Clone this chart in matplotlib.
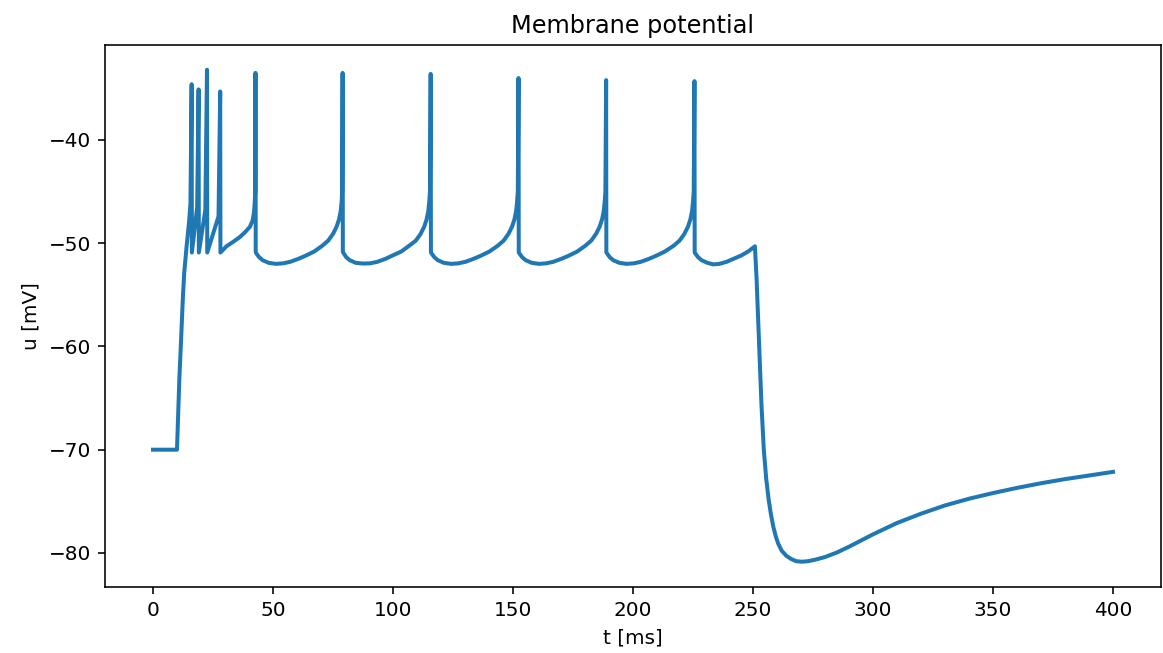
import matplotlib
matplotlib.use("Agg")
import matplotlib.pyplot as plt

# valores: tiempo (ms) y potencial de membrana (mV)
t_ini = [0.0, 10.0, 11.0, 11.7, 12.4, 13.0, 14.0, 15.0, 15.6]
u_ini = [-70.0, -70.0, -63.0, -59.4, -55.5, -52.9, -50.3, -48.0, -46.2]

# rafaga inicial
t_raf = [16.1, 16.2, 18.4, 19.0, 19.1, 21.8, 22.5, 22.6, 27.3, 28.0, 28.1,
         30.6, 33.5, 36.2, 38.5, 40.4, 41.5, 42.1, 42.4, 42.6, 42.7]
u_raf = [-34.6, -50.9, -46.5, -35.1, -50.9, -46.8, -33.2, -50.9, -47.4, -35.3, -50.9,
         -50.3, -49.85, -49.4, -48.9, -48.4, -47.8, -47.0, -46.0, -45.0, -33.5]

# disparos regulares
t_reg = [42.8, 44.2, 45.7, 48.2, 51.2, 54.2, 57.2, 60.7, 63.7, 67.2,
         70.5, 73.0, 75.0, 76.5, 77.5, 78.2, 78.6, 78.8, 79.0,
         79.1, 80.5, 82.0, 84.5, 87.5, 90.5, 93.5, 97.0, 100.0, 103.5,
         107.0, 109.5, 111.5, 113.0, 114.0, 114.7, 115.1, 115.4, 115.7,
         115.8, 117.2, 118.7, 121.2, 124.2, 127.2, 130.2, 133.7, 136.7, 140.2,
         143.6, 146.1, 148.1, 149.6, 150.6, 151.3, 151.7, 152.0, 152.3,
         152.4, 153.8, 155.3, 157.8, 160.8, 163.8, 166.8, 170.3, 173.3, 176.8,
         180.1, 182.6, 184.6, 186.1, 187.1, 187.8, 188.2, 188.5, 188.8,
         188.9, 190.3, 191.8, 194.3, 197.3, 200.3, 203.3, 206.8, 209.8, 213.3,
         216.9, 219.4, 221.4, 222.9, 223.9, 224.6, 225.0, 225.3, 225.6]
u_reg = [-50.9, -51.35, -51.65, -51.9, -52.0, -51.95, -51.8, -51.5, -51.2, -50.8,
         -50.25, -49.75, -49.1, -48.4, -47.7, -46.9, -46.0, -45.0, -33.5,
         -50.85, -51.35, -51.65, -51.9, -51.97, -51.95, -51.8, -51.5, -51.17, -50.8,
         -50.2, -49.75, -49.1, -48.4, -47.7, -46.9, -46.0, -45.0, -33.6,
         -50.9, -51.35, -51.65, -51.9, -52.0, -51.95, -51.8, -51.5, -51.2, -50.8,
         -50.25, -49.75, -49.1, -48.4, -47.7, -46.9, -46.0, -45.0, -34.0,
         -50.9, -51.35, -51.65, -51.9, -52.0, -51.95, -51.8, -51.5, -51.2, -50.8,
         -50.25, -49.75, -49.1, -48.4, -47.7, -46.9, -46.0, -45.0, -34.2,
         -50.9, -51.35, -51.65, -51.9, -52.0, -51.95, -51.8, -51.5, -51.2, -50.8,
         -50.25, -49.75, -49.1, -48.4, -47.7, -46.9, -46.0, -45.0, -34.3]

# fin del estimulo y recuperacion
t_fin = [225.7, 227.1, 228.6, 231.0, 233.5, 236.0, 239.0, 242.0, 245.0, 248.0,
         250.8, 251.5, 252.5, 253.5, 254.5, 255.5, 256.5, 257.5, 258.5, 259.5,
         260.5, 262.0, 264.0, 266.0, 268.0, 270.5, 273.0, 276.0, 280.0, 285.0,
         290.0, 295.0, 300.0, 310.0, 320.0, 330.0, 340.0, 350.0, 360.0, 370.0,
         380.0, 390.0, 400.0]
u_fin = [-50.9, -51.35, -51.65, -51.9, -52.05, -52.0, -51.8, -51.5, -51.2, -50.8,
         -50.3, -53.5, -59.5, -65.5, -70.0, -72.8, -74.8, -76.3, -77.5, -78.4,
         -79.1, -79.8, -80.3, -80.6, -80.8, -80.85, -80.8, -80.65, -80.4, -79.95,
         -79.4, -78.8, -78.2, -77.1, -76.2, -75.4, -74.75, -74.2, -73.7, -73.25,
         -72.85, -72.5, -72.15]

t = t_ini + t_raf + t_reg + t_fin
u = u_ini + u_raf + u_reg + u_fin

fig = plt.figure(figsize=(1163 / 144, 653 / 144), dpi=144)
ax = fig.add_axes([105 / 1163, 1 - 587 / 653, (1161 - 105) / 1163, (587 - 45) / 653])
ax.plot(t, u, linewidth=2)
ax.set_xlim(-20, 420)
ax.set_ylim(-83.3, -30.8)
ax.set_xlabel("t [ms]")
ax.set_ylabel("u [mV]")
ax.set_title("Membrane potential")
fig.savefig("out.png", dpi=144)
